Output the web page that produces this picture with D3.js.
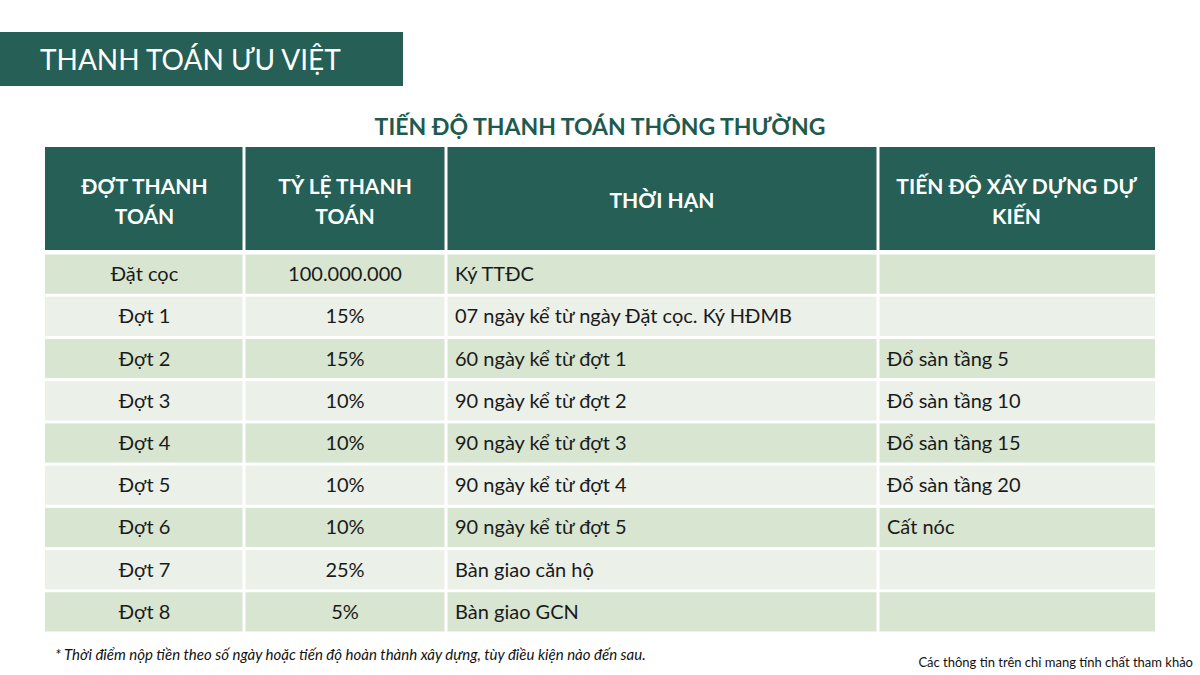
<!DOCTYPE html><html><head><meta charset="utf-8"><script src="https://d3js.org/d3.v7.min.js"></script>
<style>body{margin:0;background:#fff}svg{display:block}</style></head><body><svg id="c" width="1200" height="675"></svg>
<script>
const headers=["ĐỢT THANH|TOÁN","TỶ LỆ THANH|TOÁN","THỜI HẠN","TIẾN ĐỘ XÂY DỰNG DỰ|KIẾN"];
const dot=["Đặt cọc","Đợt  1","Đợt 2","Đợt 3","Đợt 4","Đợt 5","Đợt 6","Đợt 7","Đợt 8"];
const tyle=["100.000.000","15%","15%","10%","10%","10%","10%","25%","5%"];
const thoihan=["Ký TTĐC","07 ngày kể từ ngày Đặt cọc. Ký HĐMB","60 ngày kể từ đợt 1","90 ngày kể từ đợt 2","90 ngày kể từ đợt 3","90 ngày kể từ đợt 4","90 ngày kể từ đợt 5","Bàn giao căn hộ","Bàn giao GCN"];
const tiendo=["","","Đổ sàn tầng 5","Đổ sàn tầng 10","Đổ sàn tầng 15","Đổ sàn tầng 20","Cất nóc","",""];
const svg=d3.select("#c"),F="Lato, 'Open Sans', sans-serif",G="#255f55";
svg.append("rect").attr("x",0).attr("y",32).attr("width",403).attr("height",54).attr("fill",G);
svg.append("text").attr("x",40).attr("y",70).attr("fill","#fff").attr("font-family",F).attr("font-size",28).text("THANH TOÁN ƯU VIỆT");
svg.append("text").attr("x",600).attr("y",135).attr("text-anchor","middle").attr("fill","#1f5a4f").attr("font-family",F).attr("font-weight",700).attr("font-size",23).text("TIẾN ĐỘ THANH TOÁN THÔNG THƯỜNG");
const cols=[45,244,446,878,1155];
const x=d3.scaleOrdinal().domain([0,1,2,3]).range(cols.slice(0,4));
const w=i=>cols[i+1]-cols[i];
const y=d3.scaleBand().domain(d3.range(9)).range([253,633]);
headers.forEach((h,i)=>{
 svg.append("rect").attr("x",x(i)+(i?1.5:0)).attr("y",147).attr("width",w(i)-(i?1.5:0)-(i<3?1.5:0)).attr("height",103).attr("fill",G);
 const lines=h.split("|"),t=svg.append("text").attr("text-anchor","middle").attr("fill","#fff").attr("font-family",F).attr("font-weight",700).attr("font-size",21);
 lines.forEach((l,j)=>t.append("tspan").attr("x",x(i)+w(i)/2).attr("y",(lines.length==1?208:194+j*30)).text(l));
});
const cols2=[dot,tyle,thoihan,tiendo];
d3.range(9).forEach(r=>{
 cols2.forEach((arr,i)=>{
  svg.append("rect").attr("x",x(i)+(i?1.5:0)).attr("y",y(r)+1.5).attr("width",w(i)-(i?1.5:0)-(i<3?1.5:0)).attr("height",y.bandwidth()-3).attr("fill",r%2==0?"#d7e5d1":"#ebf0e8");
  svg.append("text").attr("x",i<2?x(i)+w(i)/2:x(i)+9).attr("y",y(r)+y.bandwidth()/2+7).attr("text-anchor",i<2?"middle":"start").attr("fill","#1a1a1a").attr("font-family",F).attr("font-size",20).text(arr[r]);
 });
});
svg.append("text").attr("x",55).attr("y",660).attr("font-family",F).attr("font-style","italic").attr("font-size",15).attr("fill","#111").text("* Thời điểm nộp tiền theo số ngày hoặc tiến độ hoàn thành xây dựng, tùy điều kiện nào đến sau.");
svg.append("text").attr("x",1193).attr("y",667).attr("text-anchor","end").attr("font-family",F).attr("font-size",13).attr("fill","#111").text("Các thông tin trên chỉ mang tính chất tham khảo");
</script></body></html>
